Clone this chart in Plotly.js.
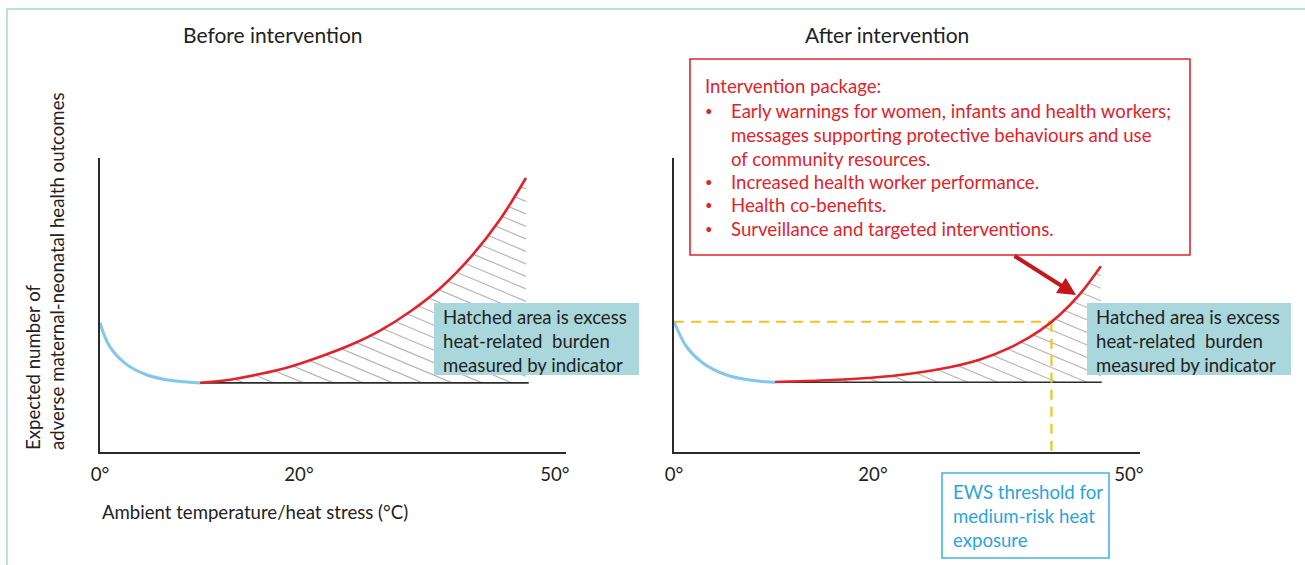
<!DOCTYPE html>
<html>
<head>
<meta charset="utf-8">
<script src="https://cdn.plot.ly/plotly-3.0.1.min.js"></script>
<style>html,body{margin:0;padding:0;background:#fff;}#chart{width:1305px;height:565px;}</style>
</head>
<body>
<div id="chart"></div>
<script>
// ---------- data (x in axis units 0-100, y in axis units 0-100) ----------
const tickVals = [0, 42.7, 97.6];
const tickLabels = ['0°', '20°', '50°'];

// Before intervention
const beforeColdX = [0, 2.0, 5.6, 10.1, 14.6, 21.5];
const beforeColdY = [44.0, 36.1, 29.9, 26.2, 24.5, 23.5];
const beforeHeatX = [21.5, 27.9, 34.3, 40.8, 47.2, 53.6, 60.1, 66.5, 73.0, 79.4, 85.8, 91.4];
const beforeHeatY = [23.5, 24.6, 26.5, 29.0, 32.4, 36.3, 41.3, 47.7, 55.7, 66.0, 79.0, 93.2];
const beforeBaseX = [21.5, 92];
const beforeBaseY = [23.5, 23.5];

// After intervention
const afterColdX = [0, 2.7, 6.2, 11.3, 17.0, 21.7];
const afterColdY = [44.3, 35.8, 30.3, 26.2, 24.3, 23.7];
const afterHeatX = [21.7, 31.3, 39.9, 48.5, 57.1, 65.7, 72.1, 78.5, 82.8, 87.1, 91.6];
const afterHeatY = [23.8, 24.3, 25.0, 26.2, 28.2, 31.5, 35.5, 41.3, 46.7, 53.7, 63.2];
const afterBaseX = [21.7, 91.8];
const afterBaseY = [23.7, 23.7];

// EWS threshold (medium-risk heat exposure)
const ewsTemp = [81.0];
const ewsLevel = [44.3];

// texts
const panelTitles = ['Before intervention', 'After intervention'];
const yTitleLines = ['Expected number of', 'adverse maternal-neonatal health outcomes'];
const xTitle = 'Ambient temperature/heat stress (°C)';
const hatchNote = ['Hatched area is excess', 'heat-related  burden', 'measured by indicator'];
const packageHeader = 'Intervention package:';
const packageItems = [
  ['Early warnings for women, infants and health workers;', 'messages supporting protective behaviours and use', 'of community resources.'],
  ['Increased health worker performance.'],
  ['Health co-benefits.'],
  ['Surveillance and targeted interventions.']
];
const ewsNote = ['EWS threshold for', 'medium-risk heat', 'exposure'];

// ---------- styling / layout helpers ----------
const W = 1305, H = 565;
const P = x => x / W;
const Q = y => 1 - y / H;
const FONT = 'Lato, "Open Sans", sans-serif';
const FS = 18.6;
const RED = '#e3222a', BLUE = '#82c7ec', TEAL = '#a9d7db', GOLD = '#f3c417';
const pxPerX = 466 / 100, pxPerY = 294 / 100;
const hatchSlope = 0.42 * pxPerX / pxPerY;   // pixel slope -> data slope
const hatchStep = 12.5 / pxPerY;

function curveAt(xs, ys, x) {
  for (let i = 0; i < xs.length - 1; i++) {
    if (x >= xs[i] && x <= xs[i + 1]) {
      const t = (x - xs[i]) / (xs[i + 1] - xs[i]);
      return ys[i] + t * (ys[i + 1] - ys[i]);
    }
  }
  return ys[ys.length - 1];
}

function hatchLines(xs, ys, base, phase) {
  const xEnd = xs[xs.length - 1];
  const hx = [], hy = [];
  const cMin = base + hatchSlope * xs[0];
  const cMax = curveAt(xs, ys, xEnd) + hatchSlope * xEnd;
  for (let c = cMin + phase; c < cMax; c += hatchStep) {
    let x1 = null;
    for (let i = 0; i < xs.length - 1; i++) {
      const g0 = ys[i] + hatchSlope * xs[i] - c;
      const g1 = ys[i + 1] + hatchSlope * xs[i + 1] - c;
      if (g0 <= 0 && g1 >= 0) {
        const t = g1 === g0 ? 0 : -g0 / (g1 - g0);
        x1 = xs[i] + t * (xs[i + 1] - xs[i]);
        break;
      }
    }
    if (x1 === null) continue;
    const x2 = Math.min((c - base) / hatchSlope, xEnd);
    if (x2 <= x1) continue;
    hx.push(x1, x2, null);
    hy.push(c - hatchSlope * x1, c - hatchSlope * x2, null);
  }
  return {x: hx, y: hy};
}

const hb = hatchLines(beforeHeatX, beforeHeatY, beforeBaseY[0], 2.0);
const ha = hatchLines(afterHeatX, afterHeatY, afterBaseY[0], 2.0);

const line = (x, y, xa, ya, lineStyle) => ({
  x: x, y: y, xaxis: xa, yaxis: ya, type: 'scatter', mode: 'lines',
  line: lineStyle, hoverinfo: 'skip', showlegend: false
});

const hatchStyle = {color: '#b8b8b8', width: 1.2};
const baseStyle = {color: '#2b2b2b', width: 1.6};
const coldStyle = {color: BLUE, width: 3, shape: 'spline', smoothing: 1};
const heatStyle = {color: RED, width: 2.6, shape: 'spline', smoothing: 1};
const ewsStyle = {color: GOLD, width: 2.2, dash: '10px,7px'};

const traces = [
  line(hb.x, hb.y, 'x', 'y', hatchStyle),
  line(beforeBaseX, beforeBaseY, 'x', 'y', baseStyle),
  line(beforeColdX, beforeColdY, 'x', 'y', coldStyle),
  line(beforeHeatX, beforeHeatY, 'x', 'y', heatStyle),

  line(ha.x, ha.y, 'x2', 'y2', hatchStyle),
  line(afterBaseX, afterBaseY, 'x2', 'y2', baseStyle),
  line([0, ewsTemp[0]], [ewsLevel[0], ewsLevel[0]], 'x2', 'y2', ewsStyle),
  line([ewsTemp[0], ewsTemp[0]], [ewsLevel[0], 0], 'x2', 'y2', ewsStyle),
  line(afterColdX, afterColdY, 'x2', 'y2', coldStyle),
  line(afterHeatX, afterHeatY, 'x2', 'y2', heatStyle)
];

const xAxisCommon = {
  range: [0, 100], showgrid: false, zeroline: false, showline: true,
  linecolor: '#2b2b2b', linewidth: 1.6, ticks: '', tickvals: tickVals, ticktext: tickLabels,
  tickfont: {family: FONT, size: FS, color: '#222'}, ticklabelstandoff: 5, fixedrange: true
};
const yAxisCommon = {
  range: [0, 100], showgrid: false, zeroline: false, showline: true,
  linecolor: '#2b2b2b', linewidth: 1.6, ticks: '', showticklabels: false,
  domain: [Q(452), Q(158)], fixedrange: true
};

const ann = (x, y, text, opts) => Object.assign({
  xref: 'paper', yref: 'paper', x: P(x), y: Q(y), text: text, showarrow: false,
  xanchor: 'left', yanchor: 'middle', align: 'left',
  font: {family: FONT, size: FS, color: '#222'}
}, opts || {});

const annotations = [
  ann(273, 34, panelTitles[0], {xanchor: 'center', font: {family: FONT, size: 21, color: '#222'}}),
  ann(887, 34, panelTitles[1], {xanchor: 'center', font: {family: FONT, size: 21, color: '#222'}}),
  ann(45, 452, yTitleLines.join('<br>'), {textangle: -90, xanchor: 'center', yanchor: 'bottom'}),
  ann(100, 512, xTitle),
  ann(441, 340.5, hatchNote.join('<br>')),
  ann(1094, 340.5, hatchNote.join('<br>')),
  ann(951, 516, ewsNote.join('<br>'), {font: {family: FONT, size: FS, color: '#2aa4de'}}),
  ann(703, 86, packageHeader, {font: {family: FONT, size: FS, color: RED}}),
  {xref: 'paper', yref: 'paper', x: P(1076), y: Q(295), ax: -63, ay: -40, axref: 'pixel', ayref: 'pixel',
   text: '', showarrow: true, arrowhead: 2, arrowsize: 0.9, arrowwidth: 4, arrowcolor: '#c4161c', standoff: 0}
];
let lineIdx = 0;
packageItems.forEach(item => {
  const y0 = 111 + lineIdx * 23.6;
  annotations.push(ann(703, y0, '•', {font: {family: FONT, size: 13, color: RED}}));
  const yc = y0 + (item.length - 1) * 23.6 / 2;
  annotations.push(ann(729, yc, item.join('<br>'), {font: {family: FONT, size: FS, color: RED}}));
  lineIdx += item.length;
});

const shapes = [
  {type: 'rect', xref: 'paper', yref: 'paper', x0: P(7), x1: P(1330), y0: Q(9), y1: Q(600),
   line: {color: '#b9e1e5', width: 2}, fillcolor: 'rgba(0,0,0,0)', layer: 'below'},
  {type: 'rect', xref: 'paper', yref: 'paper', x0: P(434), x1: P(639), y0: Q(375), y1: Q(303),
   line: {width: 0}, fillcolor: TEAL, layer: 'above'},
  {type: 'rect', xref: 'paper', yref: 'paper', x0: P(1087), x1: P(1291), y0: Q(375), y1: Q(303),
   line: {width: 0}, fillcolor: TEAL, layer: 'above'},
  {type: 'rect', xref: 'paper', yref: 'paper', x0: P(690), x1: P(1190), y0: Q(255), y1: Q(59),
   line: {color: '#e0262c', width: 1.6}, fillcolor: '#ffffff', layer: 'above'},
  {type: 'rect', xref: 'paper', yref: 'paper', x0: P(942), x1: P(1109), y0: Q(558), y1: Q(473),
   line: {color: '#45b2e4', width: 1.6}, fillcolor: '#ffffff', layer: 'above'}
];

const layout = {
  width: W, height: H, margin: {l: 0, r: 0, t: 0, b: 0, pad: 0},
  paper_bgcolor: '#ffffff', plot_bgcolor: 'rgba(0,0,0,0)', showlegend: false, hovermode: false,
  xaxis: Object.assign({}, xAxisCommon, {domain: [P(100), P(566)], anchor: 'y'}),
  yaxis: Object.assign({}, yAxisCommon, {anchor: 'x'}),
  xaxis2: Object.assign({}, xAxisCommon, {domain: [P(674), P(1140)], anchor: 'y2'}),
  yaxis2: Object.assign({}, yAxisCommon, {anchor: 'x2'}),
  annotations: annotations, shapes: shapes,
  font: {family: FONT}
};

Plotly.newPlot('chart', traces, layout, {staticPlot: true, displayModeBar: false});
</script>
</body>
</html>
